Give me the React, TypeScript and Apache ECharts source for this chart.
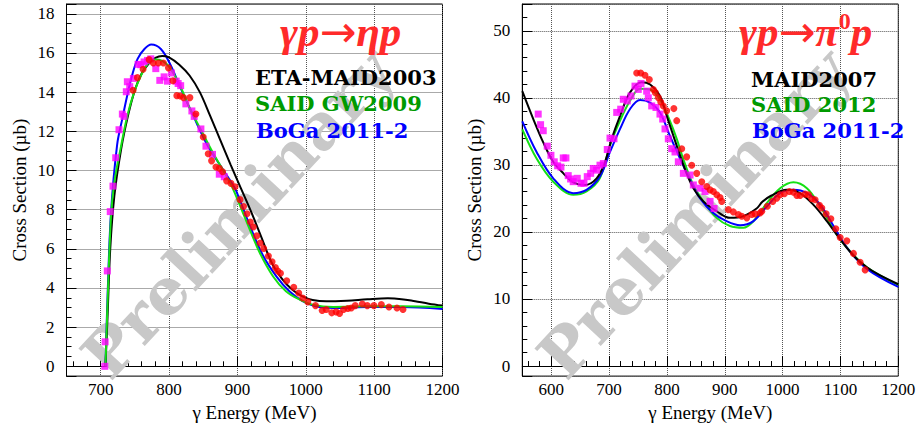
import React, { useEffect, useRef } from 'react';
import * as echarts from 'echarts';

// ---------- Left panel: gamma p -> eta p ----------
const etaMaid2003: [number, number][] = [
  [707, 0], [710, 2.5], [714, 6.0], [720, 8.7], [730, 11.1], [740, 12.8], [750, 14.1], [760, 14.95],
  [770, 15.45], [780, 15.75], [790, 15.85], [800, 15.78], [815, 15.4], [830, 14.85], [845, 14.0],
  [860, 12.8], [875, 11.55], [890, 10.3], [905, 9.1], [920, 7.9], [935, 6.6], [950, 5.3], [965, 4.48],
  [980, 3.92], [995, 3.57], [1010, 3.39], [1030, 3.32], [1060, 3.35], [1090, 3.42], [1120, 3.47],
  [1140, 3.43], [1160, 3.32], [1180, 3.2], [1200, 3.1],
];
const saidGW2009: [number, number][] = [
  [707, 0], [710, 3.2], [715, 7.6], [720, 9.4], [729, 11.1], [739, 12.8], [749, 14.0], [759, 14.85],
  [770, 15.5], [780, 15.67], [790, 15.6], [800, 15.3], [815, 14.4], [830, 13.2], [850, 11.85],
  [865, 10.85], [880, 9.95], [893, 9.1], [912, 7.5], [932, 5.85], [952, 4.6], [971, 3.83], [991, 3.41],
  [1010, 3.15], [1040, 3.03], [1090, 3.07], [1140, 3.07], [1200, 3.03],
];
const boga2011Eta: [number, number][] = [
  [707, 0], [710, 3.5], [715, 7.8], [724, 11.3], [732, 12.7], [739, 13.85], [746, 14.86], [754, 15.7],
  [764, 16.2], [774, 16.43], [788, 16.2], [802, 15.4], [817, 14.2], [837, 12.67], [856, 11.3],
  [876, 10.2], [891, 9.4], [898, 8.97], [917, 7.28], [937, 5.68], [957, 4.59], [976, 3.83], [996, 3.32],
  [1020, 3.03], [1050, 2.98], [1090, 3.03], [1140, 3.03], [1200, 2.93],
];
const etaMagenta: [number, number][] = [
  [706, 0], [706.5, 1.25], [709.7, 4.87], [714, 7.9], [718, 9.2], [722, 10.65], [726.8, 12.08],
  [731.7, 12.88], [734, 12.76], [737.5, 14.02], [739, 14.53], [742.5, 14.28], [747.8, 14.7],
  [754.7, 15.42], [758.6, 15.4], [763.5, 15.54], [768.4, 15.62], [773.3, 15.7], [780.6, 15.2],
  [786.5, 14.6], [792.8, 14.78], [797.7, 14.56], [803.5, 14.98], [810.4, 14.56], [813.3, 14.44],
  [817, 14.33], [824.6, 13.4], [833.4, 13.04], [836.8, 12.76], [846.6, 12.12], [854, 11.24],
  [863.6, 10.82], [873.5, 9.81], [880.8, 9.68],
];
const etaRed: [number, number][] = [
  [747.4, 14.1], [753.7, 14.74], [762, 15.17], [770.8, 15.66], [777, 15.49], [784.4, 15.49],
  [791.8, 15.49], [799.1, 15.24], [805.6, 14.58], [811.4, 13.82], [816.3, 13.8], [821.1, 13.72],
  [830.5, 13.72], [839.3, 12.88], [850, 11.71], [857.3, 10.85], [862.2, 10.49], [868.6, 10.18],
  [873.5, 10.11], [878.3, 9.93], [884.2, 9.47], [890.6, 9.34], [896.5, 9.17], [903.8, 8.51],
  [909, 8.16], [914, 7.79], [918.9, 7.37], [923.3, 7.11], [928.2, 6.66], [933.1, 6.3], [938.4, 6.02],
  [945.3, 5.63], [950.7, 5.34], [955.6, 5.04], [959, 4.87], [963, 4.75], [972.1, 4.37], [982.4, 4.04],
  [989.7, 3.74], [995.6, 3.49], [1003, 3.29], [1014.2, 3.1], [1024, 2.85], [1029.9, 2.9], [1038, 2.73],
  [1044.4, 2.78], [1049.4, 2.7], [1055.3, 2.9], [1061.6, 2.95], [1066.5, 2.98], [1072.4, 3.1],
  [1082.7, 3.18], [1090, 3.1], [1099.7, 3.1], [1110.5, 3.15], [1121.7, 3.03], [1133.4, 2.98],
  [1142.2, 2.9],
];

// ---------- Right panel: gamma p -> pi0 p ----------
const maid2007: [number, number][] = [
  [550, 41], [569, 36.84], [586, 33.4], [603.5, 30.46], [621, 28.74], [638, 27.41], [658, 27.01],
  [678.5, 28], [693, 30.46], [704.5, 33.89], [719, 37.33], [736, 40.78], [756, 42.34], [771, 42],
  [788, 40.28], [799.6, 37.33], [811, 34.38], [822.7, 31.43], [834, 28.74], [845.7, 26.53],
  [863, 24.56], [886, 23.09], [909, 22.1], [932, 22.35], [955, 23.5], [965, 24.5], [980, 25.4],
  [1007, 26.28], [1030, 25.79], [1053, 24.07], [1076.5, 21.62], [1099.5, 18.9], [1122.5, 16.46],
  [1145.7, 14.74], [1168.7, 13.51], [1200, 12.2],
];
const said2012: [number, number][] = [
  [550, 35.3], [574.7, 30.95], [603.5, 27.5], [638, 25.54], [661, 26.04], [684, 28], [701.6, 32.9],
  [719, 36.6], [736, 39.54], [753.5, 41.37], [770.8, 41.26], [788, 39.79], [805, 36.6], [817, 33.89],
  [828, 30.95], [845.7, 27.01], [863, 24.56], [886, 22.1], [909, 20.88], [932, 20.63], [949.5, 21.6],
  [972.7, 24.3], [995.7, 26.53], [1018.7, 27.41], [1042, 26.53], [1065, 23.83], [1088, 20.38],
  [1111, 17.68], [1145.7, 14.74], [1200, 12.1],
];
const boga2011Pi: [number, number][] = [
  [550, 36.5], [574.7, 31.93], [603.5, 28], [638, 25.79], [661, 26.28], [684, 28.25], [701.6, 31.93],
  [719, 35.37], [736, 38.31], [753.5, 39.69], [770.8, 39.3], [788, 37.83], [805, 34.38], [822.7, 30.95],
  [840, 27.75], [857, 25.05], [880, 22.84], [903, 21.62], [926.5, 21.0], [949.5, 21.62], [972.7, 23.8],
  [995.7, 25.79], [1018.7, 26.28], [1042, 25.79], [1065, 24.07], [1088, 20.88], [1111, 17.68],
  [1145.7, 14.49], [1200, 11.8],
];
const piMagenta: [number, number][] = [
  [577.5, 37.58], [581.6, 36.0], [586.2, 35.1], [593.1, 32.8], [599.5, 31.43], [605.2, 30.46],
  [611.1, 29.87], [616.8, 29.67], [620.8, 31.04], [625.4, 31.04], [629.4, 28.4], [633.5, 27.9],
  [638, 27.5], [645, 28], [651.4, 27.26], [656.6, 27.26], [662.3, 28.25], [668.2, 28.74],
  [672.7, 29.47], [678.5, 29.22], [684.3, 29.96], [690, 30.2], [696.9, 32.3], [701.6, 34],
  [708.5, 33.9], [713.2, 37.83], [720.1, 38.31], [724.6, 39.79], [731.5, 39.54], [737.9, 40.28],
  [744.8, 41.75], [750.5, 41.26], [755.2, 42.15], [765, 41.0], [767.8, 40.0], [773.7, 38.8],
  [781.1, 38.56], [788, 37.58], [792.7, 36.84], [796.7, 35.37], [802.4, 33.89], [808.3, 32.42],
  [814, 31.93], [819.7, 30.46], [828.4, 28.74], [840, 28.49], [845.7, 27.01], [857.3, 26.53],
  [865.9, 26.04], [874.6, 24.56], [881.5, 23.5],
];
const piRed: [number, number][] = [
  [747.7, 43.72], [754.7, 43.72], [762.1, 43.37], [769.6, 42.73], [776.5, 41.26], [780, 40.78],
  [785.1, 40.04], [789.3, 39.39], [793.8, 38.8], [799.6, 38.06], [812, 38.4], [817, 36.6],
  [825.6, 32.42], [834.2, 31.2], [842.9, 29.96], [851.6, 28.74], [860.2, 27.5], [868.9, 26.78],
  [874.6, 26.28], [880.3, 26.04], [886.2, 25.54], [891.9, 25.15], [894.8, 24.56], [906.2, 23.33],
  [914.9, 22.99], [923.5, 22.6], [929.4, 22.35], [938.1, 22.1], [946.7, 22.6], [952.4, 22.7],
  [961.1, 22.84], [964, 23.09], [973.7, 23.83], [983, 24.56], [990, 25.05], [995.7, 25.54],
  [1003.1, 25.7], [1011.8, 26.04], [1018.7, 25.94], [1024.6, 25.45], [1030.3, 25.45], [1038.9, 25.64],
  [1044.7, 25.54], [1050.5, 24.95], [1056.2, 24.8], [1063.7, 23.97], [1067.8, 23.58], [1075.3, 22.7],
  [1083.4, 21.96], [1092, 20.48], [1099.5, 19.16], [1111, 18.67], [1122.5, 16.8], [1134, 15.47],
  [1142.7, 14.34],
];

const leftLegend = ['ETA-MAID2003', 'SAID GW2009', 'BoGa 2011-2'];
const rightLegend = ['MAID2007', 'SAID 2012', 'BoGa 2011-2'];
const xName = 'γ Energy (MeV)';
const yName = 'Cross Section (µb)';

const SERIF = 'Liberation Serif';
const BOLD_SERIF = 'DejaVu Serif';
const BLACK = '#000000';
const GREEN_LINE = '#14e014';
const GREEN_TEXT = '#009a00';
const BLUE = '#0000ff';
const RED = '#ff0000';
const MAGENTA = '#ff00ff';
const TITLE_RED = '#ff2a2a';

function xAxisCfg(gridIndex: number, min: number, max: number) {
  return {
    type: 'value', gridIndex, min, max, splitNumber: 5,
    name: xName, nameLocation: 'middle', nameGap: 22,
    nameTextStyle: { fontFamily: SERIF, fontSize: 19, color: '#000' },
    axisLine: { show: true, lineStyle: { color: '#000', width: 1 } },
    axisTick: { show: true, inside: true, length: 10, lineStyle: { color: '#000' } },
    minorTick: { show: true, splitNumber: 5, length: 5, lineStyle: { color: '#000' } },
    axisLabel: {
      fontFamily: SERIF, fontSize: 17, color: '#000', margin: 5, showMinLabel: false,
      formatter: (v: number) => String(v),
    },
    splitLine: { show: true, lineStyle: { type: 'dotted', color: '#555', width: 1 } },
  };
}
function yAxisCfg(gridIndex: number, min: number, max: number, splitNumber: number, minorSplit: number) {
  return {
    type: 'value', gridIndex, min, max, splitNumber,
    name: yName, nameLocation: 'middle', nameGap: 38, nameRotate: 90,
    nameTextStyle: { fontFamily: SERIF, fontSize: 19, color: '#000' },
    axisLine: { show: true, lineStyle: { color: '#000', width: 1 } },
    axisTick: { show: true, inside: true, length: 10, lineStyle: { color: '#000' } },
    minorTick: { show: true, splitNumber: minorSplit, length: 5, lineStyle: { color: '#000' } },
    axisLabel: {
      fontFamily: SERIF, fontSize: 17, color: '#000', margin: 12, showMinLabel: false, showMaxLabel: false,
      formatter: (v: number) => String(v),
    },
    splitLine: { show: true, lineStyle: { type: 'dotted', color: '#555', width: 1 } },
  };
}

function lineSeries(data: [number, number][], color: string, idx: number, z: number) {
  return {
    type: 'line', data, xAxisIndex: idx, yAxisIndex: idx, smooth: 0.35, showSymbol: false, z,
    lineStyle: { color, width: 2 }, itemStyle: { color },
  };
}
function scatterSeries(data: [number, number][], color: string, symbol: string, idx: number) {
  return {
    type: 'scatter', data, xAxisIndex: idx, yAxisIndex: idx, symbol, symbolSize: 7, z: 5,
    itemStyle: { color },
  };
}

function watermark(cx: number, cy: number) {
  return {
    type: 'text', x: cx, y: cy, rotation: (47 * Math.PI) / 180, z: 1, silent: true,
    style: {
      text: 'Preliminary', fill: '#c8c8c8', fontFamily: BOLD_SERIF, fontWeight: 'bold',
      fontSize: 64, align: 'center', verticalAlign: 'middle',
    },
  };
}
function label(x: number, y: number, text: string, fill: string) {
  return {
    type: 'text', x, y, z: 10,
    style: { text, fill, fontFamily: BOLD_SERIF, fontWeight: 'bold', fontSize: 21, align: 'left', verticalAlign: 'middle' },
  };
}
const titleRich = {
  a: { fill: TITLE_RED, fontFamily: SERIF, fontWeight: 'bold', fontStyle: 'italic', fontSize: 43, verticalAlign: 'middle' },
  b: { fill: TITLE_RED, fontFamily: 'DejaVu Sans', fontWeight: 'normal', fontSize: 44, verticalAlign: 'middle' },
  s: { fill: TITLE_RED, fontFamily: SERIF, fontWeight: 'bold', fontSize: 24, verticalAlign: 'top' },
};
function title(x: number, y: number, text: string) {
  return {
    type: 'text', x, y, z: 10,
    style: { text, rich: titleRich, align: 'left', verticalAlign: 'middle' },
  };
}

export default function App() {
  const ref = useRef<HTMLDivElement>(null);
  useEffect(() => {
    const chart = echarts.init(ref.current!, null, { renderer: 'svg' });
    const option: any = {
      animation: false,
      backgroundColor: '#ffffff',
      grid: [
        { left: 66.5, top: 4, width: 376, height: 376, show: true, borderColor: '#000', borderWidth: 1 },
        { left: 522.3, top: 4, width: 376, height: 376, show: true, borderColor: '#000', borderWidth: 1 },
      ],
      xAxis: [xAxisCfg(0, 650, 1200), xAxisCfg(1, 550, 1200)],
      yAxis: [yAxisCfg(0, -0.5, 18.5, 10, 4), yAxisCfg(1, -1.5, 54, 5, 5)],
      series: [
        lineSeries(boga2011Eta, BLUE, 0, 2),
        lineSeries(etaMaid2003, BLACK, 0, 3),
        lineSeries(saidGW2009, GREEN_LINE, 0, 3),
        scatterSeries(etaMagenta, MAGENTA, 'rect', 0),
        scatterSeries(etaRed, RED, 'circle', 0),
        lineSeries(said2012, GREEN_LINE, 1, 2),
        lineSeries(boga2011Pi, BLUE, 1, 3),
        lineSeries(maid2007, BLACK, 1, 3),
        scatterSeries(piMagenta, MAGENTA, 'rect', 1),
        scatterSeries(piRed, RED, 'circle', 1),
      ],
      graphic: [
        watermark(238, 213),
        watermark(694, 213),
        title(280, 31, '{a|γp}{b|→}{a|ηp}'),
        title(739, 31, '{a|γp}{b|→}{a|π}{s|0}{a|p}'),
        label(255, 77, leftLegend[0], BLACK),
        label(255, 103, leftLegend[1], GREEN_TEXT),
        label(256, 130, leftLegend[2], BLUE),
        label(751, 79, rightLegend[0], BLACK),
        label(751, 104, rightLegend[1], GREEN_TEXT),
        label(752, 130, rightLegend[2], BLUE),
      ],
    };
    chart.setOption(option);
    return () => chart.dispose();
  }, []);
  return (
    <div
      ref={ref}
      style={{ position: 'fixed', left: 0, top: 0, width: 919, height: 427, background: '#fff' }}
    />
  );
}
